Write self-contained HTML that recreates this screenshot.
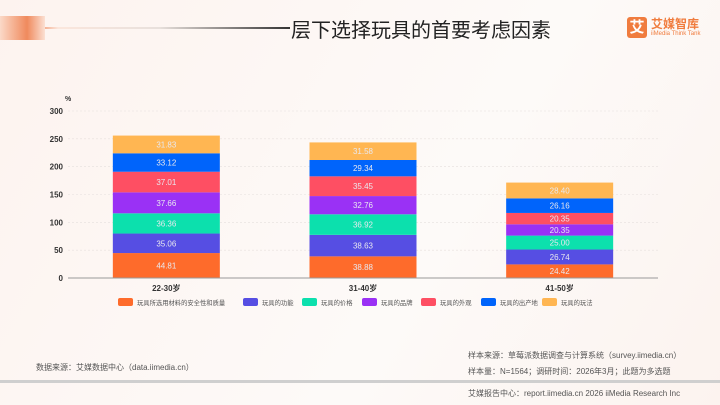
<!DOCTYPE html>
<html><head><meta charset="utf-8">
<style>
body{margin:0;width:720px;height:405px;overflow:hidden;background:#fdf6f3;font-family:"Liberation Sans","Noto Sans CJK SC",sans-serif;}
#wrap{position:relative;width:720px;height:405px;background:linear-gradient(120deg,#fdf3ef 0%,#fdfaf8 60%,#fcf3ef 100%);}
.t{position:absolute;white-space:nowrap;}
</style></head>
<body>
<div id="wrap">
<div class="t" style="left:0;width:290px;background:linear-gradient(90deg,#f08a5d 0%,#f08a5d 12%,#fbe6dc 20%,#e8e0dc 55%,#333 100%);height:2px;top:27px"></div>
<div class="t" style="left:0;top:16px;width:45px;height:24px;background:linear-gradient(90deg,#fbd9c8,#f08a5d 60%,#fbe0d3)"></div>
<div class="t" style="left:291px;top:14px;font-size:20px;color:#222;">层下选择玩具的首要考虑因素</div>
<div class="t" style="left:627px;top:17px;width:20px;height:21px;background:#f07c3e;border-radius:3px;color:#fff;font-size:15px;text-align:center;line-height:21px;font-weight:bold">艾</div>
<div class="t" style="left:651px;top:15px;font-size:12px;color:#f07c3e;font-weight:bold">艾媒智库</div>
<div class="t" style="left:651px;top:31px;font-size:6px;color:#f07c3e;">iiMedia Think Tank</div>
<svg id="chart" width="720" height="405" style="position:absolute;left:0;top:0"></svg>
<div class="t" style="left:36px;top:362px;font-size:8px;color:#555;">数据来源：艾媒数据中心（data.iimedia.cn）</div>
<div class="t" style="left:468px;top:350px;font-size:8px;color:#555;">样本来源：草莓派数据调查与计算系统（survey.iimedia.cn）</div>
<div class="t" style="left:468px;top:366px;font-size:8px;color:#555;">样本量：N=1564；调研时间：2026年3月；此题为多选题</div>
<div class="t" style="left:0;top:380px;width:720px;height:3px;background:#cfcfcf"></div>
<div class="t" style="left:468px;top:388px;font-size:8px;color:#555;">艾媒报告中心：report.iimedia.cn  2026 iiMedia Research Inc</div>
</div>
<script>
const categories=["22-30岁","31-40岁","41-50岁"];
const seriesNames=["玩具所选用材料的安全性和质量","玩具的功能","玩具的价格","玩具的品牌","玩具的外观","玩具的出产地","玩具的玩法"];
const colors=["#fe6b2b","#564ee3","#0ce0ad","#9a31f5","#fe4f63","#0064fb","#ffb652"];
const sSafety=[44.81,38.88,24.42];
const sFunction=[35.06,38.63,26.74];
const sPrice=[36.36,36.92,25.00];
const sBrand=[37.66,32.76,20.35];
const sLook=[37.01,35.45,20.35];
const sOrigin=[33.12,29.34,26.16];
const sPlay=[31.83,31.58,28.40];
const series=[sSafety,sFunction,sPrice,sBrand,sLook,sOrigin,sPlay];
const yTicks=[0,50,100,150,200,250,300];
const NS="http://www.w3.org/2000/svg";
const svg=document.getElementById('chart');
const x0=68,x1=658,yB=278,yT=111,yMax=300;
const band=(x1-x0)/categories.length,bw=107;
function y(v){return yB-(v/yMax)*(yB-yT);}
function xc(i){return x0+band*(i+0.5);}
function mk(tag,attrs){const e=document.createElementNS(NS,tag);for(const k in attrs)e.setAttribute(k,attrs[k]);svg.appendChild(e);return e;}
yTicks.forEach(t=>{
  if(t>0){const g=mk('line',{x1:x0,x2:x1,y1:y(t),y2:y(t),stroke:'#e6e0dd','stroke-dasharray':'2,2','stroke-width':0.6});
  
  }
  const l=mk('text',{x:63,y:y(t)+3,'text-anchor':'end','font-size':8,fill:'#333','font-weight':'bold'});
  l.textContent=t;
  
  
});
const u=mk('text',{x:65,y:101,'font-size':7,fill:'#333','font-weight':'bold'});u.textContent='%';


categories.forEach((c,i)=>{
  let acc=0;
  series.forEach((s,k)=>{
    const v=s[i];const top=y(acc+v),bot=y(acc);
    const r=mk('rect',{x:xc(i)-bw/2,y:top,width:bw,height:bot-top,fill:colors[k]});
    
    
    const tx=mk('text',{x:xc(i),y:(top+bot)/2+3,'text-anchor':'middle','font-size':8,fill:'#e8e8ef'});
    tx.textContent=v.toFixed(2);
    
    
    acc+=v;
  });
  const cl=mk('text',{x:xc(i),y:291,'text-anchor':'middle','font-size':8,fill:'#333','font-weight':'bold'});
  cl.textContent=c;
  
  
});
const ax=mk('line',{x1:x0,x2:x1,y1:yB,y2:yB,stroke:'#999','stroke-width':1});


const lx=[118,243,302,362,421,481,542];
seriesNames.forEach((n,k)=>{
  const r=mk('rect',{x:lx[k],y:298,width:15,height:8,rx:2,fill:colors[k]});
  
  
  const t=mk('text',{x:lx[k]+19,y:305,'font-size':6.3,fill:'#555'});
  t.textContent=n;
  
  
});
</script>
</body></html>
